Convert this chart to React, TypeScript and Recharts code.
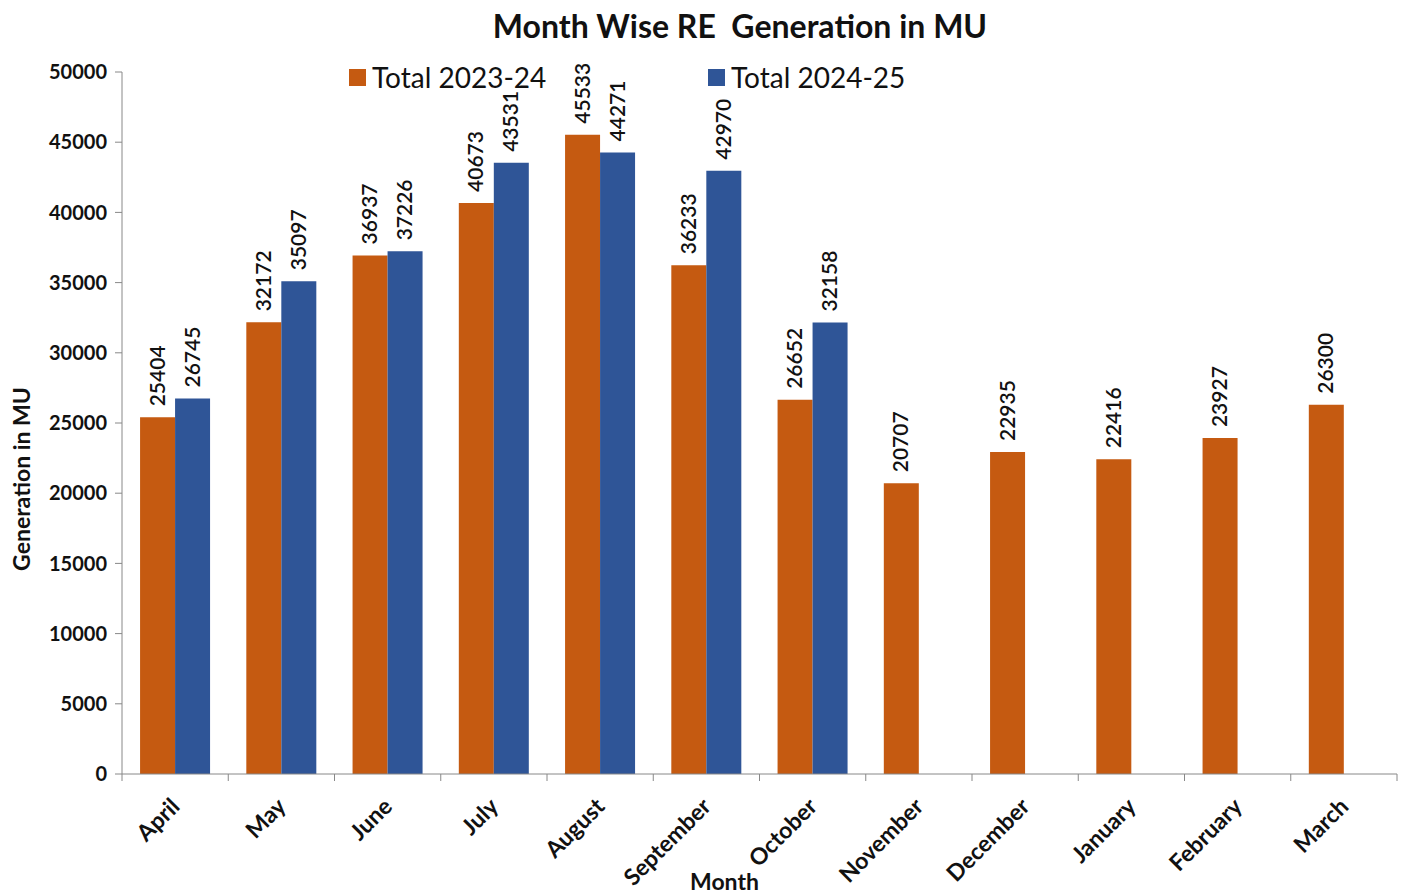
import React from 'react';
import { BarChart, Bar, XAxis, YAxis, LabelList, Label } from 'recharts';

const months = ['April', 'May', 'June', 'July', 'August', 'September', 'October', 'November', 'December', 'January', 'February', 'March'];
const total2324 = [25404, 32172, 36937, 40673, 45533, 36233, 26652, 20707, 22935, 22416, 23927, 26300];
const total2425: (number | null)[] = [26745, 35097, 37226, 43531, 44271, 42970, 32158, null, null, null, null, null];
const yTicks = [0, 5000, 10000, 15000, 20000, 25000, 30000, 35000, 40000, 45000, 50000];

const ORANGE = '#C55A11';
const BLUE = '#2F5597';
const AXIS = '#888';
const FONT = 'Lato, "Open Sans", sans-serif';

const data = months.map((m, i) => ({ month: m, a: total2324[i], b: total2425[i] }));

const VLabel = (props: any) => {
  const { x, y, width, value } = props;
  if (value == null) return null;
  const cx = x + width / 2 + 7;
  const cy = y - 11;
  return (
    <text
      x={cx}
      y={cy}
      transform={`rotate(-90 ${cx} ${cy})`}
      textAnchor="start"
      fontSize={21}
      fontWeight={600}
      fill="#111"
      fontFamily={FONT}
    >
      {value}
    </text>
  );
};

// month label plus tick marks at the band edges (Excel style)
const MonthTick = (props: any) => {
  const { x, y, payload, index } = props;
  const half = payload.offset || 0;
  const tx = x + 6;
  const ty = y + 34;
  return (
    <g>
      <line x1={x - half} x2={x - half} y1={y} y2={y + 7} stroke={AXIS} />
      {index === months.length - 1 && <line x1={x + half} x2={x + half} y1={y} y2={y + 7} stroke={AXIS} />}
      <text
        x={tx}
        y={ty}
        transform={`rotate(-45 ${tx} ${ty})`}
        textAnchor="end"
        fontSize={23}
        fontWeight={700}
        fill="#111"
        fontFamily={FONT}
      >
        {payload.value}
      </text>
    </g>
  );
};

export default function App() {
  return (
    <div style={{ position: 'absolute', left: 0, top: 0, width: 1405, height: 896, background: '#fff', fontFamily: FONT }}>
      <div style={{ position: 'absolute', left: 0, width: 1480, top: 6, textAlign: 'center', fontSize: 32, fontWeight: 700, color: '#111', whiteSpace: 'pre' }}>
        {'Month Wise RE  Generation in MU'}
      </div>
      <div style={{ position: 'absolute', left: 349, top: 60, display: 'flex', alignItems: 'center', fontSize: 28, color: '#111', zIndex: 2 }}>
        <span style={{ width: 17, height: 17, background: ORANGE, display: 'inline-block', marginRight: 6 }} />
        Total 2023-24
      </div>
      <div style={{ position: 'absolute', left: 708, top: 60, display: 'flex', alignItems: 'center', fontSize: 28, color: '#111', zIndex: 2 }}>
        <span style={{ width: 17, height: 17, background: BLUE, display: 'inline-block', marginRight: 6 }} />
        Total 2024-25
      </div>
      <BarChart
        width={1405}
        height={896}
        data={data}
        margin={{ top: 72, right: 8, left: 0, bottom: 0 }}
        barCategoryGap="17%"
        barGap={0}
      >
        <YAxis
          width={122}
          domain={[0, 50000]}
          ticks={yTicks}
          interval={0}
          axisLine={{ stroke: AXIS }}
          tickLine={{ stroke: AXIS }}
          tickSize={7}
          tickMargin={8}
          tick={{ fontSize: 20, fontWeight: 700, fill: '#111', fontFamily: FONT }}
        >
          <Label
            value="Generation in MU"
            angle={-90}
            position="insideLeft"
            offset={22}
            dy={56}
            style={{ fontSize: 23, fontWeight: 700, fill: '#111', fontFamily: FONT, textAnchor: 'middle' }}
          />
        </YAxis>
        <XAxis
          dataKey="month"
          height={122}
          interval={0}
          axisLine={{ stroke: AXIS }}
          tickLine={false}
          tickSize={0}
          tickMargin={0}
          tick={<MonthTick />}
        >
          <Label
            value="Month"
            position="insideBottom"
            offset={6}
            dx={-35}
            style={{ fontSize: 23, fontWeight: 700, fill: '#111', fontFamily: FONT }}
          />
        </XAxis>
        <Bar dataKey="a" name="Total 2023-24" fill={ORANGE} isAnimationActive={false}>
          <LabelList dataKey="a" content={<VLabel />} />
        </Bar>
        <Bar dataKey="b" name="Total 2024-25" fill={BLUE} isAnimationActive={false}>
          <LabelList dataKey="b" content={<VLabel />} />
        </Bar>
      </BarChart>
    </div>
  );
}
